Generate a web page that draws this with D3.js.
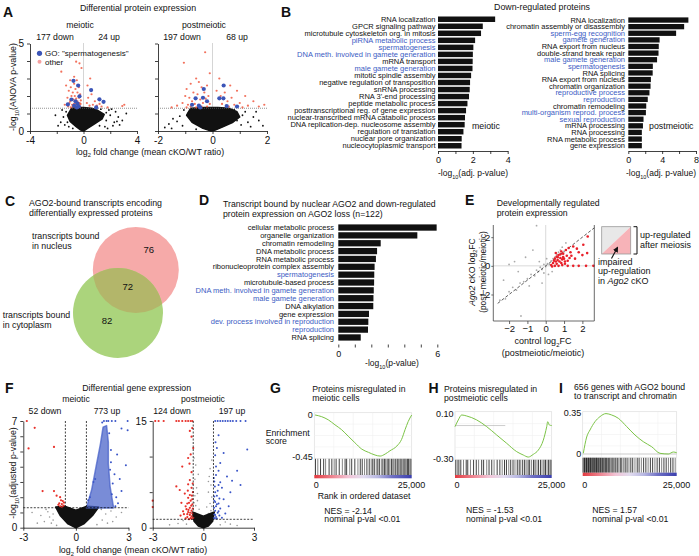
<!DOCTYPE html>
<html><head><meta charset="utf-8">
<script src="https://cdn.jsdelivr.net/npm/d3@7"></script>
<style>body{margin:0;background:#fff} svg{display:block;font-family:"Liberation Sans",Arial,Helvetica,sans-serif}</style>
</head><body><svg id="c" width="699" height="556"></svg>
<script>
// ---------------- DATA ----------------
// Panel A (protein volcano): [log2FC, -log10 p]
const aMeioCore=[[-0.9,1.3],[-1.2,0.9],[-1.0,0.55],[-0.55,0.25],[-0.2,0.05],[0,0],[0.3,0.15],[0.8,0.4],[1.4,0.7],[1.55,0.95],[1.0,1.2],[0.6,1.3],[0,1.35],[-0.5,1.35]];
const aMeioBlack=[[-1.5,0.8],[-1.7,0.5],[-2.1,0.9],[-1.3,1.1],[-1.9,0.3],[-1.4,0.35],[1.7,0.6],[2.0,0.9],[2.3,0.5],[2.6,0.8],[2.9,0.6],[2.4,1.1],[1.9,1.2],[2.2,0.3],[1.6,0.25],[3.2,1.0],[2.7,0.35],[-1.2,0.5],[1.3,1.25],[1.8,0.15],[-1.6,1.2],[2.1,1.25],[1.7,1.05],[2.5,0.55],[1.2,0.3],[-0.8,0.15],[-1.1,0.25]];
const aMeioRed=[[-1.66,3.39],[-0.55,3.96],[-0.3,3.87],[-0.15,3.6],[0.5,3.0],[-1.3,2.6],[-1.1,2.3],[-0.95,2.5],[-0.8,2.2],[-0.7,2.7],[-0.6,2.4],[-0.5,2.9],[-0.45,2.2],[-0.35,2.5],[-0.25,2.1],[-1.2,1.9],[-1.0,1.7],[-0.9,2.0],[-0.85,1.5],[-0.75,1.8],[-0.65,2.0],[-0.6,1.6],[-0.55,1.85],[-0.45,1.7],[-0.4,1.45],[-0.35,1.9],[-0.3,1.6],[-0.25,1.4],[-0.2,1.75],[-1.4,1.5],[-1.15,1.4],[-1.05,1.6],[-0.95,1.35],[-0.8,1.4],[-0.7,1.55],[-0.62,1.38],[-0.5,1.5],[-0.42,1.35],[-0.32,1.5],[-0.22,1.55],[0.25,1.6],[0.35,1.9],[0.45,1.45],[0.6,2.1],[0.7,1.5],[0.85,1.7],[1.0,1.45],[1.2,1.55],[1.35,1.4],[1.8,1.35],[2.9,1.43],[3.05,1.5],[0.3,2.6],[-0.7,3.1],[-1.0,2.9]];
const aMeioBlue=[[-0.75,2.87],[-0.4,2.6],[0.57,2.34],[1.19,1.81],[1.5,1.67],[-1.17,1.52],[-0.9,1.8],[-0.6,1.7],[-0.45,1.56],[-0.3,1.98],[0.95,1.35],[-0.5,1.35],[-0.7,1.45],[-0.35,1.4]];
const aPostCore=[[-0.8,1.3],[-0.95,0.9],[-0.75,0.5],[-0.35,0.15],[-0.05,0.0],[0.1,0.05],[0.4,0.25],[0.75,0.5],[1.0,0.8],[0.9,1.1],[0.6,1.3],[0.2,1.35],[-0.3,1.35]];
const aPostBlack=[[-1.6,0.4],[-1.3,0.55],[-1.45,0.7],[-1.1,0.3],[-1.2,0.85],[-1.75,0.2],[0.9,0.6],[1.1,0.9],[1.3,0.5],[1.5,0.8],[1.7,0.6],[1.2,1.1],[0.8,1.2],[1.6,1.1],[1.85,0.3],[-0.9,1.0],[-1.05,1.2],[1.4,0.25],[-1.5,0.15],[1.05,0.35],[-0.6,0.1]];
const aPostRed=[[-1.05,3.9],[-0.27,4.5],[-0.1,3.3],[-0.6,3.0],[-0.8,2.7],[-0.5,2.8],[-0.4,2.5],[-0.2,2.6],[-0.95,2.4],[-0.7,2.2],[-0.55,2.1],[-0.3,2.2],[-0.15,2.0],[-1.0,2.0],[-0.85,1.9],[-0.75,1.7],[-0.45,1.8],[-0.25,1.85],[-1.1,1.6],[-0.9,1.5],[-0.65,1.55],[-0.35,1.6],[-0.1,1.55],[-0.95,1.35],[-0.8,1.4],[-0.6,1.35],[-0.4,1.4],[-0.2,1.4],[-1.3,1.45],[-1.5,1.35],[0.15,2.3],[0.3,2.0],[0.45,2.2],[0.55,1.7],[0.7,1.9],[0.8,1.5],[0.35,1.55],[0.6,1.4],[1.0,1.6],[1.1,1.35],[1.3,1.45],[1.5,1.7],[1.7,1.4],[0.9,2.3],[0.25,3.0],[0.65,2.6],[1.9,1.5],[1.2,2.0]];
const aPostBlue=[[0.41,2.6],[-0.32,2.4],[-0.35,1.9],[-0.62,1.87],[-0.5,1.45],[-0.2,1.7],[0.25,1.87],[0.4,1.87],[0.52,1.43],[-0.75,1.5],[-0.45,1.35],[0.9,1.4]];

// Panel B
const bMeioTerms=["RNA localization","GPCR signaling pathway","microtubule cytoskeleton org. in mitosis","piRNA metabolic process","spermatogenesis","DNA meth. involved in gamete generation","mRNA transport","male gamete generation","mitotic spindle assembly","negative regulation of transposition","snRNA processing","RNA 3'-end processing","peptide metabolic process","posttranscriptional reg. of gene expression","nuclear-transcribed mRNA catabolic process","DNA replication-dep. nucleosome assembly","regulation of translation","nuclear pore organization","nucleocytoplasmic transport"];
const bMeioVals=[3.28,2.57,2.47,2.13,2.03,2.0,1.99,1.98,1.9,1.84,1.82,1.78,1.69,1.61,1.55,1.53,1.46,1.36,1.35];
const bMeioHL=["piRNA metabolic process","spermatogenesis","DNA meth. involved in gamete generation","male gamete generation"];
const bPostTerms=["RNA localization","chromatin assembly or disassembly","sperm-egg recognition","gamete generation","RNA export from nucleus","double-strand break repair","male gamete generation","spermatogenesis","RNA splicing","RNA export from nucleus","chromatin organization","reproductive process","reproduction","chromatin remodeling","multi-organism reprod. process","sexual reproduction","mRNA processing","RNA processing","RNA metabolic process","gene expression"];
const bPostVals=[7.1,6.6,5.65,3.7,3.6,3.57,3.4,2.9,2.88,2.67,2.63,2.5,2.3,2.12,2.08,1.8,1.73,1.6,1.6,1.6];
const bPostHL=["sperm-egg recognition","gamete generation","male gamete generation","spermatogenesis","reproductive process","reproduction","multi-organism reprod. process","sexual reproduction"];

// Panel C (Venn counts)
const vennCounts={nucleusOnly:76,both:72,cytoOnly:82};

// Panel D
const dTerms=["cellular metabolic process","organelle organization","chromatin remodeling","DNA metabolic process","RNA metabolic process","ribonucleoprotein complex assembly","spermatogenesis","microtubule-based process","DNA meth. involved in gamete generation","male gamete generation","DNA alkylation","gene expression","dev. process involved in reproduction","reproduction","RNA splicing"];
const dVals=[5.96,4.79,2.57,2.35,2.28,2.2,2.18,2.17,2.15,2.13,2.12,1.86,1.82,1.8,1.36];
const dHL=["spermatogenesis","DNA meth. involved in gamete generation","male gamete generation","dev. process involved in reproduction","reproduction"];

// Panel E: [control log2FC, Ago2 cKO log2FC]
const eRed=[[2.29,2.05],[2.05,1.47],[1.7,1.2],[1.5,1.35],[1.8,0.95],[2.26,0.89],[2.0,0.75],[1.35,0.95],[1.1,1.1],[0.95,0.85],[1.15,0.7],[1.3,0.55],[0.6,0.65],[0.7,0.75],[0.8,0.55],[0.9,0.45],[1.0,0.5],[0.65,0.4],[0.75,0.3],[0.55,0.3],[0.5,0.5],[0.45,0.35],[0.85,0.2],[1.05,0.3],[1.2,0.35],[0.4,0.2],[0.6,0.15],[0.95,0.62],[1.4,0.7],[1.6,0.5],[0.3,0.05],[0.35,-0.05],[0.5,0.0],[0.7,0.0],[0.9,0.05],[1.2,0.0],[1.5,0.0],[1.8,0.0],[2.2,0.0],[2.6,0.0],[0.55,0.9],[0.85,1.0],[1.05,0.15],[0.65,0.6],[0.8,0.8],[1.25,1.25]];
const eGray=[[-2.5,-2.4],[-2.2,-2.3],[-2.0,-1.8],[-1.8,-1.5],[-1.6,-1.7],[-1.4,-1.2],[-1.2,-1.1],[-1.0,-0.9],[-0.8,-0.6],[-0.6,-0.7],[-0.5,-0.3],[-0.4,-0.4],[-0.3,-0.1],[-0.2,-0.25],[-0.1,0.1],[0.0,-0.05],[0.1,0.15],[0.2,0.1],[0.3,0.35],[0.4,0.5],[0.5,0.6],[0.6,0.8],[0.7,0.95],[0.8,1.1],[0.9,1.3],[1.0,1.0],[-1.35,-3.5],[-1.7,0.3],[-0.7,1.1],[-0.5,2.8],[-2.3,-1.0],[-1.5,-0.4],[-0.9,-1.4],[-0.2,-1.2],[0.15,-0.6],[0.35,-0.4],[-0.1,-0.5],[-1.1,0.6],[-2.0,0.1],[1.1,1.6],[0.05,0.5],[-0.35,0.3]];

// Panel F (gene volcano)
const fMeioCore=[[-1.15,1.35],[-0.9,0.8],[-0.45,0.25],[0,0],[0.45,0.25],[0.95,0.8],[1.3,1.35],[0.6,1.4],[0,1.15],[-0.6,1.4]];
const fMeioGray=[[-2.5,1.0],[-2.0,0.8],[-1.7,1.2],[-1.5,0.7],[-1.3,0.9],[-1.8,0.4],[-1.4,0.3],[1.5,0.5],[1.7,0.9],[2.0,1.1],[2.3,0.7],[1.8,0.3],[2.6,1.0],[-1.1,0.15],[1.2,0.2],[-2.2,0.3],[2.1,0.4],[-1.6,1.05],[1.45,1.2],[-1.3,0.5]];
const fMeioBlueWedge=[[0.6,1.3],[0.9,2.5],[1.15,4.0],[1.4,5.5],[1.55,6.6],[1.75,6.7],[1.85,5.6],[1.85,4.2],[1.95,2.7],[2.15,1.3]];
const fMeioBlue=[[1.6,7],[1.75,7],[1.85,7],[2.05,7],[2.25,7],[2.95,7],[2.6,6.5],[2.95,6.4],[2.35,4.8],[2.85,4.1],[2.2,3.5],[2.5,3.2],[2.1,2.9],[2.6,2.4],[2.3,2.0],[1.5,6.9],[1.9,6.2],[2.0,5.1],[1.1,3.2],[0.8,2.0],[2.4,1.6],[2.0,4.3],[2.25,1.4],[0.7,1.8],[1.0,3.0],[2.05,2.2],[1.95,3.8]];
const fMeioRed=[[-2.8,7],[-2.35,6.55],[-2.7,5.2],[-1.25,5.3],[-1.9,2.4],[-1.25,2.4],[-1.1,2.1],[-0.9,2.0],[-0.85,1.8],[-0.75,1.75],[-0.95,1.6],[-0.8,1.55],[-0.7,1.45],[-0.9,1.4],[-0.78,1.35],[-0.68,1.65],[-1.0,1.5]];
const fPostCore=[[-0.65,2.2],[-0.55,0.9],[-0.3,0.25],[0,0],[0.3,0.25],[0.55,0.9],[0.65,2.2],[0,1.6]];
const fPostGray=[[-0.45,8.8],[-0.3,7.5],[-0.5,6.8],[0.35,7.2],[0.45,6.0],[-0.4,5.6],[0.3,5.0],[-0.5,4.5],[0.5,4.3],[-0.35,3.8],[0.4,3.4],[-0.45,3.1],[0.2,2.9],[-0.25,2.6],[0.45,2.4],[-0.5,2.1],[0.3,2.0],[0.55,1.7],[-0.4,1.6],[0.5,9.5],[-0.55,9.8],[0.4,8.3],[-1.2,1.0],[-1.5,0.6],[1.3,0.8],[1.6,0.5],[-2.0,0.4],[2.0,0.3],[-1.0,0.5],[1.0,0.4],[-0.55,3.5],[0.5,3.0],[-0.35,4.8],[0.3,6.5]];
const fPostRed=[[-2.85,15],[-2.65,15],[-2.35,15],[-1.6,15],[-1.45,15],[-1.25,15],[-1.05,15],[-0.9,15],[-0.75,15],[-0.65,15],[-0.8,13.6],[-0.7,12.8],[-0.6,11.2],[-0.75,10.3],[-0.9,9.8],[-1.25,8.6],[-0.7,7.8],[-0.8,6.7],[-1.6,5.8],[-0.9,6.1],[-1.4,5.3],[-1.1,4.8],[-3,3.8],[-3,2.9],[-1.3,3.5],[-1.05,3.0],[-0.9,4.2],[-0.75,3.8],[-0.65,3.3],[-0.8,2.8],[-0.7,2.4],[-0.9,2.2],[-0.65,2.0],[-0.8,1.8],[-0.7,1.6],[-0.95,1.5],[-0.75,1.35],[-0.85,3.5],[-0.68,4.5],[-1.0,2.6],[-0.62,5.0],[-1.15,1.9],[-0.85,1.2],[-0.7,1.25],[-0.95,1.9],[-0.62,2.7],[-0.88,2.5],[-0.72,3.1],[-0.95,3.4],[-0.66,4.0],[-0.8,4.6],[-0.92,5.2],[-0.7,5.6],[-1.2,2.3],[-1.35,1.7],[-0.6,1.4],[-1.05,1.3],[-0.78,2.1],[-0.63,6.2],[-0.82,9.0],[-0.66,14.0]];
const fPostBlue=[[0.7,15],[0.85,15],[1.0,15],[1.15,15],[1.3,15],[1.45,15],[1.6,15],[1.75,15],[1.95,15],[2.2,15],[2.5,15],[0.8,11.2],[0.7,10.2],[1.0,9.1],[1.4,7.2],[1.7,6.6],[0.9,8.0],[0.75,7.4],[0.65,6.5],[0.9,6.0],[1.1,5.6],[0.7,5.0],[0.8,4.5],[1.2,4.0],[0.65,3.8],[0.9,3.4],[0.75,3.0],[1.0,2.7],[0.7,2.4],[0.85,2.1],[0.65,1.9],[0.95,1.7],[0.75,1.5],[1.1,1.4],[0.68,1.3],[2.0,8.0],[0.72,12.0],[1.2,10.5],[0.62,1.4],[0.8,1.3],[0.7,1.8],[0.9,2.3],[0.63,2.8],[0.8,3.3],[0.7,3.6],[0.95,4.1],[0.65,4.4],[0.85,5.2],[0.68,5.8],[1.0,6.4],[0.62,7.0],[1.3,2.0],[1.5,3.0],[0.75,8.6],[1.6,5.0],[2.2,6.0],[0.9,13.0],[2.6,11.0]];

// Panels G-I (GSEA): rank in thousands, running enrichment score
const gRank=[0.2,1.9,3.6,5.3,7.0,8.7,10.4,12.2,13.9,15.6,16.9,18.2,19.4,21.2,22.4,23.3,24.1,25];
const gES=[0,-0.018,-0.052,-0.105,-0.157,-0.227,-0.296,-0.366,-0.40,-0.429,-0.44,-0.418,-0.384,-0.332,-0.262,-0.157,-0.07,0];
const gHits=[0.3,0.9,1.6,2.4,2.9,3.8,4.5,5.1,5.6,6.4,7.2,7.9,8.3,9.1,9.6,10.4,11.2,11.8,12.3,12.9,13.5,14.1,14.6,15.0,15.4,15.9,16.3,16.7,17.2,17.6,18.0,18.3,18.7,19.1,19.4,19.8,20.2,20.5,20.9,21.3,21.6,22.0,22.3,22.7,23.0,23.3,23.6,23.9,24.2,24.5,24.8];
const hRank=[0,0.85,1.73,3.02,5.61,8.2,10.78,13.37,15.95,17.66,18.95,20.24,21.54,22.83,23.71,23.97,24.38,25];
const hES=[-0.01,0.05,0.094,0.085,0.05,-0.01,-0.084,-0.158,-0.232,-0.262,-0.28,-0.256,-0.218,-0.13,-0.01,0.034,0.005,0.0];
const hHits=[0.2,0.6,1.0,1.5,2.2,2.9,3.3,4.0,4.8,5.5,6.1,6.9,7.4,8.2,8.8,9.5,10.1,10.9,11.6,12.2,12.8,13.3,13.9,14.4,15.0,15.5,16.1,16.6,17.0,17.5,18.0,18.4,18.9,19.3,19.8,20.3,20.7,21.2,21.6,22.1,22.5,23.0,23.4,23.8,24.2,24.6,24.9];
const iRank=[0.16,1.06,1.94,3.27,4.6,6.2,7.71,9.47,11.7,13.91,16.12,18.35,20.56,22.77,24.1,25];
const iES=[0.006,0.145,0.205,0.276,0.319,0.345,0.333,0.305,0.234,0.162,0.105,0.062,0.006,0.0,0.017,0.011];
const iHits=[0.1,0.3,0.5,0.6,0.8,1.0,1.1,1.3,1.5,1.6,1.8,2.0,2.1,2.3,2.5,2.7,2.8,3.0,3.2,3.4,3.6,3.7,3.9,4.1,4.3,4.5,4.7,4.9,5.1,5.3,5.6,5.8,6.1,6.3,6.6,6.9,7.2,7.5,7.8,8.1,8.5,8.8,9.2,9.6,10.0,10.4,10.9,11.3,11.8,12.3,12.8,13.3,13.9,14.5,15.0,15.6,16.2,16.8,17.4,18.0,18.6,19.2,19.8,20.4,21.0,21.6,22.2,22.8,23.4,24.0,24.6];

// ---------------- DRAWING ----------------
const svg=d3.select('#c');
const INK='#111', BLUE='#3c5cc4';
function T(x,y,parts,o={}){
  const fs=o.fs||8.5;
  const t=svg.append('text').attr('x',x).attr('y',y).attr('font-size',fs).attr('fill',o.fill||INK).attr('text-anchor',o.anchor||'start');
  if(o.bold) t.attr('font-weight','bold');
  if(o.rot) t.attr('transform',`rotate(-90,${x},${y})`);
  if(typeof parts==='string') parts=[[parts]];
  let shift=0;
  parts.forEach(p=>{
    const ts=t.append('tspan').text(p[0]);
    const want=p[1]==='sub'?fs*0.3:0;
    if(want!==shift){ts.attr('dy',want-shift);shift=want;}
    if(p[1]==='sub') ts.attr('font-size',fs*0.65);
    if(p[1]==='it') ts.attr('font-style','italic');
  });
  return t;
}
function styleAxis(g,fs){
  g.attr('font-size',fs).attr('font-family',null);
  g.selectAll('path,line').attr('stroke',INK).attr('stroke-width',0.8);
  g.selectAll('text').attr('fill',INK);
  return g;
}
function dots(g,data,x,y,r,fill,op){
  g.selectAll(null).data(data).enter().append('circle')
   .attr('cx',d=>x(d[0])).attr('cy',d=>y(d[1])).attr('r',r).attr('fill',fill).attr('fill-opacity',op==null?1:op);
}
function blob(g,data,x,y,fill,op){
  g.append('path').datum(data).attr('d',d3.line().x(d=>x(d[0])).y(d=>y(d[1])).curve(d3.curveLinearClosed)).attr('fill',fill).attr('fill-opacity',op==null?1:op)
   .attr('stroke',fill).attr('stroke-opacity',op==null?1:op).attr('stroke-width',1.5).attr('stroke-linejoin','round');
}
const fmt=d=>d<0?'-'+(-d):String(d);

// ---- Panel A ----
T(3,17,'A',{fs:14,bold:true});
T(138,11,'Differential protein expression',{fs:8.8,anchor:'middle'});
function volcA(o){
  const x=d3.scaleLinear(o.xd,o.xr), y=d3.scaleLinear([0,5],[131,43.5]);
  const g=svg.append('g');
  g.append('line').attr('x1',x(0)).attr('x2',x(0)).attr('y1',y(5)).attr('y2',y(0)).attr('stroke','#888').attr('stroke-width',0.7).attr('stroke-dasharray','1,1');
  blob(g,o.core,x,y,INK);
  dots(g,o.black,x,y,0.9,INK);
  g.append('line').attr('x1',o.xr[0]).attr('x2',o.xr[1]).attr('y1',y(1.3)).attr('y2',y(1.3)).attr('stroke','#666').attr('stroke-width',0.7).attr('stroke-dasharray','1,1');
  dots(g,o.red,x,y,1.1,'#f0583f',0.85);
  dots(g,o.blue,x,y,2.1,'#3b55b8');
  styleAxis(g.append('g').attr('transform','translate(0,131)').call(d3.axisBottom(x).tickValues(o.xt).tickFormat(d=>o.xl.includes(d)?fmt(d):'').tickSize(3).tickSizeOuter(0)),10);
  styleAxis(g.append('g').attr('transform',`translate(${o.xr[0]},0)`).call(d3.axisLeft(y).tickValues([0,1,2,3,4,5]).tickFormat(d=>o.yl&&(d===0||d===5)?fmt(d):'').tickSize(3).tickSizeOuter(0)),10);
}
volcA({xd:[-4,4],xr:[30,137],xt:[-4,-2,0,2,4],xl:[-4,0,4],yl:true,core:aMeioCore,black:aMeioBlack,red:aMeioRed,blue:aMeioBlue});
volcA({xd:[-2,2],xr:[158,267],xt:[-2,-1,0,1,2],xl:[-2,0,2],yl:false,core:aPostCore,black:aPostBlack,red:aPostRed,blue:aPostBlue});
T(80,28,'meiotic',{fs:8.7,anchor:'middle'});
T(204,28,'postmeiotic',{fs:8.7,anchor:'middle'});
T(55,40,'177 down',{fs:8.7,anchor:'middle'});
T(109,40,'24 up',{fs:8.7,anchor:'middle'});
T(182,40,'197 down',{fs:8.7,anchor:'middle'});
T(237,40,'68 up',{fs:8.7,anchor:'middle'});
svg.append('circle').attr('cx',39.5).attr('cy',53.3).attr('r',2.6).attr('fill','#3b55b8');
T(45,56.3,'GO: "spermatogenesis"',{fs:8});
svg.append('circle').attr('cx',39.5).attr('cy',61.7).attr('r',2).attr('fill','#f5a0a0');
T(45,64.7,'other',{fs:8});
T(150,154.5,[['log'],['2','sub'],[' fold change (mean cKO/WT ratio)']],{fs:8.8,anchor:'middle'});
T(16,87,[['-log'],['10','sub'],['(ANOVA p-value)']],{fs:8.8,anchor:'middle',rot:true});

// ---- Panel B ----
T(281,17,'B',{fs:14,bold:true});
T(542,9.5,'Down-regulated proteins',{fs:8.8,anchor:'middle'});
function barPanel(o){
  const x=d3.scaleLinear(o.xd,o.xr);
  const y=d3.scaleBand(d3.range(o.terms.length),o.yr).paddingInner(o.pad);
  const g=svg.append('g');
  g.selectAll(null).data(o.vals).enter().append('rect')
    .attr('x',x(0)).attr('y',(d,i)=>y(i)).attr('width',d=>x(d)-x(0)).attr('height',y.bandwidth()).attr('fill',INK);
  g.selectAll(null).data(o.terms).enter().append('text')
    .attr('x',o.labelX).attr('y',(d,i)=>y(i)+y.bandwidth()/2+2.6).attr('text-anchor','end').attr('font-size',o.fs)
    .attr('fill',d=>o.hl.includes(d)?BLUE:INK).text(d=>d);
  return {x,g};
}
{
  const r=barPanel({terms:bMeioTerms,vals:bMeioVals,hl:bMeioHL,xd:[0,4],xr:[438,507.7],yr:[16.5,148.5],pad:0.22,labelX:435.5,fs:7.5});
  styleAxis(r.g.append('g').attr('transform','translate(0,151)').call(d3.axisBottom(r.x).tickValues([0,1,2,3,4]).tickFormat(d=>d%2===0?d:'').tickSize(3).tickSizeOuter(0)),9);
  T(472,129,'meiotic',{fs:8.8});
  T(473,176,[['-log'],['10','sub'],['(adj. p-value)']],{fs:8.5,anchor:'middle'});
}
{
  const r=barPanel({terms:bPostTerms,vals:bPostVals,hl:bPostHL,xd:[0,8],xr:[628.3,696],yr:[17.4,148.3],pad:0.2,labelX:625,fs:7.5});
  styleAxis(r.g.append('g').attr('transform','translate(0,151)').call(d3.axisBottom(r.x).tickValues([0,2,4,6,8]).tickFormat(d=>d%4===0?d:'').tickSize(3).tickSizeOuter(0)),9);
  T(649,129,'postmeiotic',{fs:8.8});
  T(661,176,[['-log'],['10','sub'],['(adj. p-value)']],{fs:8.5,anchor:'middle'});
}

// ---- Panel C ----
T(5,206,'C',{fs:14,bold:true});
T(29,206,'AGO2-bound transcripts encoding',{fs:8.8});
T(29,216,'differentially expressed proteins',{fs:8.8});
{
  const pink={cx:135.8,cy:270,r:43}, green={cx:118,cy:313,r:45};
  svg.append('defs').append('clipPath').attr('id','clipPink').append('circle').attr('cx',pink.cx).attr('cy',pink.cy).attr('r',pink.r);
  svg.append('circle').attr('cx',pink.cx).attr('cy',pink.cy).attr('r',pink.r).attr('fill','#f6aaa9');
  svg.append('circle').attr('cx',green.cx).attr('cy',green.cy).attr('r',green.r).attr('fill','#abd47c');
  svg.append('circle').attr('cx',green.cx).attr('cy',green.cy).attr('r',green.r).attr('fill','#b3b66a').attr('clip-path','url(#clipPink)');
  T(148.7,252.7,String(vennCounts.nucleusOnly),{fs:9.5,anchor:'middle'});
  T(127.7,290,String(vennCounts.both),{fs:9.5,anchor:'middle'});
  T(107,324,String(vennCounts.cytoOnly),{fs:9.5,anchor:'middle'});
}
T(32,239.3,'transcripts bound',{fs:8.8});
T(32,248.5,'in nucleus',{fs:8.8});
T(2.7,318.3,'transcripts bound',{fs:8.8});
T(2.7,327.7,'in cytoplasm',{fs:8.8});

// ---- Panel D ----
T(199,205,'D',{fs:14,bold:true});
T(223,206.7,'Transcript bound by nuclear AGO2 and down-regulated',{fs:8.7});
T(223,216.7,'protein expression on AGO2 loss (n=122)',{fs:8.7});
{
  const r=barPanel({terms:dTerms,vals:dVals,hl:dHL,xd:[0,6],xr:[338.3,437.3],yr:[224.4,340.6],pad:0.2,labelX:334,fs:7.5});
  const ax=r.g.append('g').attr('transform','translate(0,344.5)').call(d3.axisBottom(r.x).tickValues(d3.range(0,7)).tickFormat(d=>d%6===0?d:'').tickSize(3).tickSizeOuter(0));
  styleAxis(ax,9); ax.select('.domain').remove();
  T(392,366,[['-log'],['10','sub'],['(p-value)']],{fs:8.5,anchor:'middle'});
}

// ---- Panel E ----
T(465,205,'E',{fs:14,bold:true});
T(496.7,206,'Developmentally regulated',{fs:8.7});
T(496.7,215.5,'protein expression',{fs:8.7});
{
  const x=d3.scaleLinear([-2.86,2.65],[493.3,594.3]), y=d3.scaleLinear([2.85,-3.85],[225,321]);
  const g=svg.append('g');
  g.append('line').attr('x1',x(0)).attr('x2',x(0)).attr('y1',y(2.85)).attr('y2',y(-3.85)).attr('stroke','#c8c8c8').attr('stroke-width',0.7);
  g.append('line').attr('x1',x(-2.86)).attr('x2',x(2.65)).attr('y1',y(0)).attr('y2',y(0)).attr('stroke','#c8c8c8').attr('stroke-width',0.7);
  dots(g,eGray,x,y,0.9,'#aaa');
  g.append('line').attr('x1',x(-2.62)).attr('y1',y(-2.62)).attr('x2',x(2.65)).attr('y2',y(2.65)).attr('stroke','#333').attr('stroke-width',0.8).attr('stroke-dasharray','3,2');
  dots(g,eRed,x,y,1.3,'#e8202a');
  g.append('path').attr('d',`M${x(-2.86)},${y(2.85)}V${y(-3.85)}H${x(2.65)}V${y(2.85)}`).attr('fill','none').attr('stroke','#444').attr('stroke-width',0.8);
  const ax=g.append('g').attr('transform',`translate(0,${y(-3.85)})`).call(d3.axisBottom(x).tickValues([-2,-1,0,1,2]).tickSize(3).tickPadding(1.5).tickSizeOuter(0).tickFormat(d=>d<0?'\u2212'+(-d):d));
  styleAxis(ax,9.5); ax.select('.domain').remove(); ax.selectAll('line').attr('stroke','#444');
  const ay=g.append('g').attr('transform',`translate(${x(-2.86)},0)`).call(d3.axisLeft(y).tickValues([-2,0,2]).tickSize(2).tickPadding(1).tickSizeOuter(0).tickFormat(d=>d<0?'\u2212'+(-d):d));
  styleAxis(ay,9.5); ay.select('.domain').remove(); ay.selectAll('line').attr('stroke','#444');
}
T(474.5,272,[['Ago2','it'],[' cKO log'],['2','sub'],['FC']],{fs:8.6,anchor:'middle',rot:true});
T(485.5,272,'(post\u2212meiotic/meiotic)',{fs:8.4,anchor:'middle',rot:true});
T(543,344,[['control log'],['2','sub'],['FC']],{fs:9,anchor:'middle'});
T(543,355.5,'(postmeiotic/meiotic)',{fs:9,anchor:'middle'});
{
  const x0=601.7,x1=630.7,y0=226.7,y1=254;
  svg.append('path').attr('d',`M${x0},${y0}H${x1}L${x0},${y1}Z`).attr('fill','#e8e8e8');
  svg.append('path').attr('d',`M${x1},${y0}V${y1}H${x0}Z`).attr('fill','#f7b3b8');
  svg.append('rect').attr('x',x0).attr('y',y0).attr('width',x1-x0).attr('height',y1-y0).attr('fill','none').attr('stroke','#999').attr('stroke-width',0.8);
  svg.append('path').attr('d',`M633.5,${y0}H637V${y1}H633.5`).attr('fill','none').attr('stroke',INK).attr('stroke-width',1);
  svg.append('defs').append('marker').attr('id','arr').attr('viewBox','0 0 10 10').attr('refX',8).attr('refY',5).attr('markerWidth',5).attr('markerHeight',5).attr('orient','auto')
    .append('path').attr('d','M0,0L10,5L0,10Z').attr('fill',INK);
  svg.append('line').attr('x1',611.5).attr('y1',258.5).attr('x2',617.5).attr('y2',247.5).attr('stroke',INK).attr('stroke-width',1.1).attr('marker-end','url(#arr)');
}
T(640,238,'up-regulated',{fs:9});
T(640,247.5,'after meiosis',{fs:9});
T(598,264.5,'impaired',{fs:9});
T(598,274,'up-regulation',{fs:9});
T(598,283.5,[['in '],['Ago2','it'],[' cKO']],{fs:9});

// ---- Panel F ----
T(5,393,'F',{fs:14,bold:true});
T(136.7,390.7,'Differential gene expression',{fs:8.8,anchor:'middle'});
T(76,402.3,'meiotic',{fs:8.7,anchor:'middle'});
T(203,402.3,'postmeiotic',{fs:8.7,anchor:'middle'});
T(45,414.3,'52 down',{fs:8.7,anchor:'middle'});
T(107,414.3,'773 up',{fs:8.7,anchor:'middle'});
T(172,414.3,'124 down',{fs:8.7,anchor:'middle'});
T(232,414.3,'197 up',{fs:8.7,anchor:'middle'});
function volcF(o){
  const x=d3.scaleLinear([-3,3],o.xr), y=d3.scaleLinear([0,o.ymax],[527.7,421]);
  const g=svg.append('g');
  dots(g,o.gray,x,y,0.8,'#999');
  blob(g,o.core,x,y,INK);
  if(o.wedge) blob(g,o.wedge,x,y,'#4560c8',0.72);
  dots(g,o.red,x,y,1.1,'#e8302a');
  dots(g,o.blue,x,y,1.0,'#3a55c8');
  const dl=g.append('g').attr('stroke',INK).attr('stroke-width',0.8).attr('stroke-dasharray','2,1.5');
  dl.append('line').attr('x1',o.xr[0]).attr('x2',o.xr[1]).attr('y1',y(o.thr)).attr('y2',y(o.thr));
  [-0.6,0.6].forEach(v=>dl.append('line').attr('x1',x(v)).attr('x2',x(v)).attr('y1',y(o.ymax)).attr('y2',y(o.thr)));
  styleAxis(g.append('g').attr('transform','translate(0,527.7)').call(d3.axisBottom(x).tickValues([-3,0,3]).tickFormat(fmt).tickSize(3).tickSizeOuter(0)),10);
  styleAxis(g.append('g').attr('transform',`translate(${o.xr[0]},0)`).call(d3.axisLeft(y).tickValues(o.yt).tickFormat(d=>(d===0||d===o.ymax)?fmt(d):'').tickSize(3).tickSizeOuter(0)),10);
}
volcF({xr:[23.3,128.5],ymax:7,yt:d3.range(0,8),thr:1.31,core:fMeioCore,gray:fMeioGray,wedge:fMeioBlueWedge,red:fMeioRed,blue:fMeioBlue});
volcF({xr:[152.7,254],ymax:15,yt:[0,5,10,15],thr:1.18,core:fPostCore,gray:fPostGray,wedge:null,red:fPostRed,blue:fPostBlue});
T(133,553,[['log'],['2','sub'],[' fold change (mean cKO/WT ratio)']],{fs:8.8,anchor:'middle'});
T(16,473,[['-log'],['10','sub'],['(adjusted p-value)']],{fs:8.8,anchor:'middle',rot:true});

// ---- Panels G, H, I ----
const grad=svg.append('defs').append('linearGradient').attr('id','strip');
[[0,'#e33a40'],[0.2,'#ee8a96'],[0.35,'#f2c4d6'],[0.5,'#e2dcef'],[0.65,'#b8b8e2'],[0.8,'#6f70c4'],[1,'#3b3fae']].forEach(s=>grad.append('stop').attr('offset',s[0]).attr('stop-color',s[1]));
function gsea(o){
  const x=d3.scaleLinear([0,25],[o.x0,o.x1]), y=d3.scaleLinear(o.yd,o.yr);
  const g=svg.append('g');
  g.append('rect').attr('x',o.x0).attr('y',o.top).attr('width',o.x1-o.x0).attr('height',o.cb-o.top).attr('fill','#fff').attr('stroke','#ddd').attr('stroke-width',0.7);
  [5,10,15,20].forEach(v=>g.append('line').attr('x1',x(v)).attr('x2',x(v)).attr('y1',o.top).attr('y2',o.cb).attr('stroke','#f0f0f0').attr('stroke-width',0.6));
  [0.25,0.5,0.75].forEach(f=>g.append('line').attr('x1',o.x0).attr('x2',o.x1).attr('y1',o.top+f*(o.cb-o.top)).attr('y2',o.top+f*(o.cb-o.top)).attr('stroke','#f0f0f0').attr('stroke-width',0.6));
  if(o.zero) g.append('line').attr('x1',o.x0).attr('x2',x(o.zero)).attr('y1',y(0)).attr('y2',y(0)).attr('stroke','#aaa').attr('stroke-width',0.6);
  g.append('path').datum(o.rank.map((r,i)=>[r,o.es[i]])).attr('d',d3.line().x(d=>x(d[0])).y(d=>y(d[1])).curve(d3.curveMonotoneX))
    .attr('fill','none').attr('stroke','#7cc447').attr('stroke-width',1);
  g.append('rect').attr('x',o.x0).attr('y',o.cb).attr('width',o.x1-o.x0).attr('height',o.bb-o.cb).attr('fill','#fff').attr('stroke','#e4e4e4').attr('stroke-width',0.6);
  g.selectAll(null).data(o.hits).enter().append('line').attr('x1',d=>x(d)).attr('x2',d=>x(d)).attr('y1',o.cb+0.5).attr('y2',o.bb)
    .attr('stroke',(d,i)=>i%3===1?'#666':'#111').attr('stroke-width',0.8);
  g.append('rect').attr('x',o.x0).attr('y',o.bb).attr('width',o.x1-o.x0).attr('height',o.sb-o.bb).attr('fill','url(#strip)');
  o.ylab.forEach(l=>T(o.x0-1.5,y(l[0])+3,l[1],{fs:9,anchor:'end'}));
  T(o.x0-0.5,488.3,'0',{fs:9});
  T(o.x1+13.5,488.3,'25,000',{fs:9,anchor:'end'});
}
T(270,393.3,'G',{fs:14,bold:true});
T(312.3,391.7,'Proteins misregulated in',{fs:8.7});
T(312.3,400.7,'meiotic cells',{fs:8.7});
gsea({x0:314.3,x1:411.7,top:412.7,cb:458.3,bb:475,sb:478.3,yd:[0,-0.45],yr:[415,457],rank:gRank,es:gES,hits:gHits,zero:null,ylab:[[0,'0'],[-0.45,'-0.45']]});
T(265.7,436,'Enrichment',{fs:8.7});
T(265.7,443.8,'score',{fs:8.7});
T(317.7,499.3,'Rank in ordered dataset',{fs:8.7});
T(324.3,514,'NES = -2.14',{fs:8.7});
T(324.3,522,'nominal p-val <0.01',{fs:8.7});

T(428.5,393,'H',{fs:14,bold:true});
T(444,391.7,'Proteins misregulated in',{fs:8.7});
T(444,400.7,'postmeiotic cells',{fs:8.7});
gsea({x0:455,x1:551.7,top:411.7,cb:459.3,bb:475,sb:478,yd:[0.1,-0.3],yr:[414.3,459.3],rank:hRank,es:hES,hits:hHits,zero:13,ylab:[[0.1,'0.10'],[-0.3,'-0.30']]});
T(466,513.3,'NES = -1.53',{fs:8.7});
T(466,521.7,'nominal p-val <0.01',{fs:8.7});

T(559,393,'I',{fs:14,bold:true});
T(574,390,'656 genes with AGO2 bound',{fs:8.7});
T(574,399.3,'to transcript and chromatin',{fs:8.7});
gsea({x0:582.7,x1:676.7,top:411.7,cb:457.3,bb:472.7,sb:476,yd:[0.35,0],yr:[413,454],rank:iRank,es:iES,hits:iHits,zero:25,ylab:[[0.35,'0.35'],[0,'0']]});
T(592.3,513.3,'NES = 1.57',{fs:8.7});
T(592.3,521.7,'nominal p-val <0.01',{fs:8.7});
</script></body></html>
